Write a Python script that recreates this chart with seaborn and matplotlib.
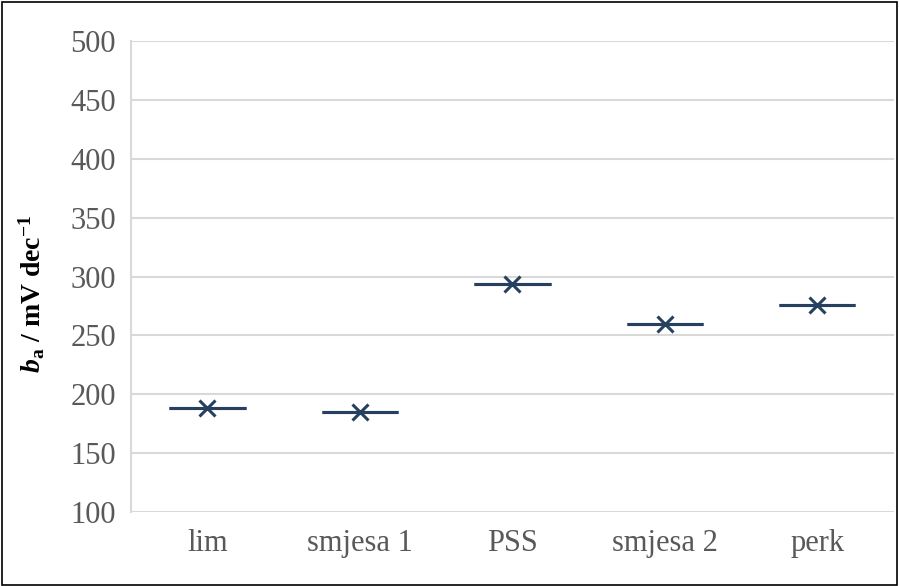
import pandas as pd
import matplotlib
matplotlib.use("Agg")
import matplotlib.pyplot as plt
import seaborn as sns
from matplotlib.patches import Rectangle

# values
samples = ["lim", "smjesa 1", "PSS", "smjesa 2", "perk"]
ba_values = [188.5, 185, 294, 259.5, 275.5]
y_ticks = [100, 150, 200, 250, 300, 350, 400, 450, 500]

df = pd.DataFrame({"sample": samples, "ba": ba_values})

serif = "Liberation Serif"
sns.set_theme(style="white")
plt.rcParams["font.family"] = [serif, "DejaVu Serif"]
plt.rcParams["mathtext.fontset"] = "custom"
plt.rcParams["mathtext.rm"] = serif
plt.rcParams["mathtext.bf"] = serif + ":bold"
plt.rcParams["mathtext.bfit"] = serif + ":italic:bold"
plt.rcParams["mathtext.it"] = serif + ":italic"

navy = "#26405F"
grid_c = "#D9D9D9"
txt_c = "#595959"

fig = plt.figure(figsize=(8.99, 5.86), dpi=100)
ax = fig.add_axes([0.146, 0.126, 0.848, 0.804])

sns.boxplot(data=df, x="sample", y="ba", order=samples, ax=ax,
            width=0.5, color="white", linecolor=navy, linewidth=2.2,
            showmeans=True, showcaps=False,
            boxprops=dict(edgecolor=navy, linewidth=2.2),
            medianprops=dict(color=navy, linewidth=2.2),
            meanprops=dict(marker="x", markeredgecolor=navy,
                           markersize=11, markeredgewidth=2.2),
            zorder=3)

ax.set_ylim(100, 500)
ax.set_xlim(-0.5, 4.5)
ax.set_yticks(y_ticks)
ax.yaxis.grid(True, color=grid_c, linewidth=1.5)
ax.set_axisbelow(True)
for s in ["top", "right", "bottom"]:
    ax.spines[s].set_visible(False)
ax.spines["left"].set_color(grid_c)
ax.spines["left"].set_linewidth(1.5)
ax.tick_params(axis="both", length=0, labelsize=22, colors=txt_c)
ax.tick_params(axis="y", pad=11)
ax.tick_params(axis="x", pad=12)
ax.set_xlabel("")
ax.set_ylabel(r"$\mathbfit{b}_{\mathbf{a}}$ / mV dec$^{\mathbf{-1}}$",
              fontsize=20, fontweight="bold", color="black")
ax.yaxis.set_label_coords(-0.11, 0.463)

fig.patches.append(Rectangle((0.002, 0.002), 0.996, 0.995, transform=fig.transFigure,
                             fill=False, edgecolor="black", linewidth=1.2))

fig.savefig("out.png", dpi=100)
